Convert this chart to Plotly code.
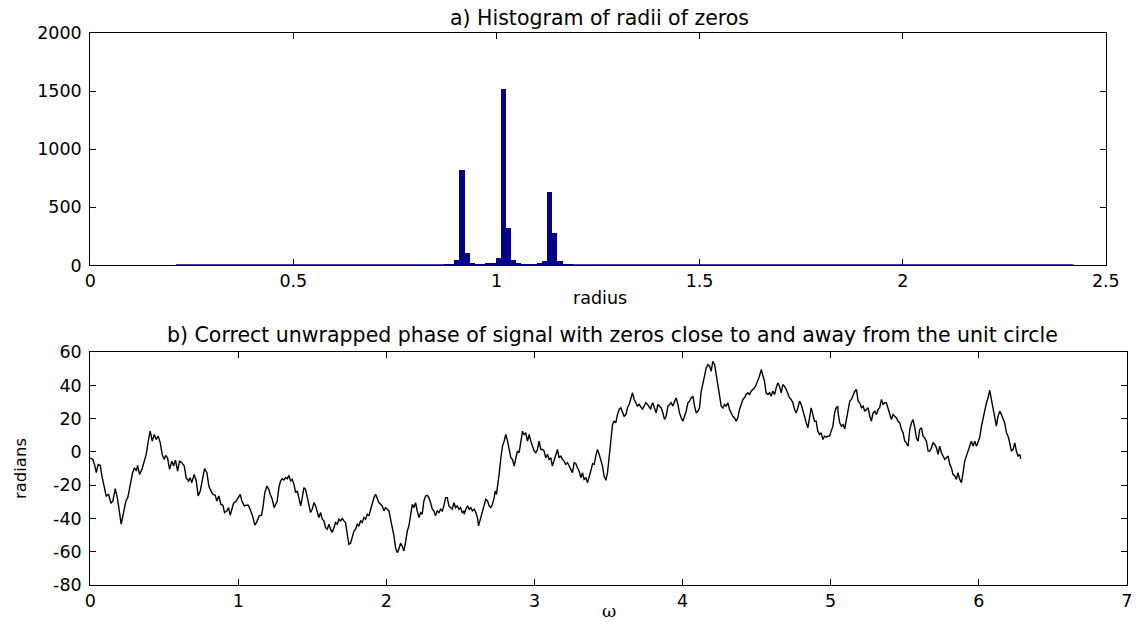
import numpy as np
import plotly.graph_objects as go

# ---------------- data ----------------
# histogram of radii of zeros (bins of equal width, counts)
hist_bin_start = 0.8332          # left edge of first listed bin
hist_bin_width = 0.0127
hist_counts = [2, 3, 3, 5, 10, 45, 825, 110, 19, 12, 16, 20, 25, 67, 1520, 325,
               45, 22, 12, 8, 15, 25, 40, 635, 282, 35, 12, 5, 3, 2, 2]
hist_range = [0.2109, 2.4207]    # smallest / largest bin edge of the histogram

# unwrapped phase
omega = [
    0.000, 0.018, 0.032, 0.041, 0.054, 0.068, 0.079, 0.095, 0.108, 0.124,
    0.140, 0.153, 0.169, 0.185, 0.198, 0.209, 0.225, 0.241, 0.254, 0.270,
    0.286, 0.299, 0.311, 0.320, 0.333, 0.349, 0.365, 0.378, 0.394, 0.405,
    0.419, 0.432, 0.446, 0.459, 0.473, 0.486, 0.500, 0.509, 0.522, 0.536,
    0.551, 0.563, 0.576, 0.590, 0.603, 0.619, 0.635, 0.648, 0.664, 0.675,
    0.686, 0.702, 0.716, 0.729, 0.743, 0.756, 0.772, 0.788, 0.801, 0.815,
    0.828, 0.844, 0.855, 0.869, 0.882, 0.896, 0.907, 0.923, 0.934, 0.945,
    0.957, 0.968, 0.986, 1.002, 1.013, 1.024, 1.040, 1.053, 1.067, 1.080,
    1.096, 1.112, 1.125, 1.141, 1.157, 1.166, 1.179, 1.193, 1.206, 1.215,
    1.229, 1.242, 1.256,
    1.263, 1.274, 1.285, 1.297, 1.308, 1.319, 1.331, 1.342, 1.353, 1.364,
    1.376, 1.387, 1.398, 1.409, 1.421, 1.432, 1.443, 1.454, 1.466, 1.477,
    1.488, 1.499, 1.511, 1.522, 1.533, 1.544, 1.556, 1.567, 1.578, 1.589,
    1.601, 1.612, 1.623, 1.634, 1.646, 1.657, 1.668, 1.679, 1.691, 1.702,
    1.713, 1.724, 1.736, 1.747, 1.758, 1.769, 1.781, 1.792, 1.803, 1.814,
    1.826, 1.837, 1.848, 1.859, 1.871, 1.882, 1.893, 1.904, 1.916, 1.927,
    1.938, 1.949, 1.961, 1.972, 1.983, 1.994, 2.006, 2.017, 2.028, 2.039,
    2.051, 2.062, 2.073, 2.084, 2.096, 2.107, 2.118, 2.129, 2.141, 2.152,
    2.163, 2.175, 2.186, 2.197, 2.208, 2.220, 2.231, 2.242, 2.253, 2.265,
    2.276, 2.287, 2.298, 2.310, 2.321, 2.332, 2.343, 2.355, 2.366, 2.377,
    2.388, 2.400, 2.411, 2.422, 2.433, 2.445, 2.456, 2.467, 2.478, 2.490,
    2.501, 2.512, 2.523,
    2.525, 2.536, 2.548, 2.559, 2.570, 2.581, 2.593, 2.604, 2.615, 2.622,
    2.633, 2.642, 2.651, 2.660, 2.671, 2.683, 2.694, 2.705, 2.716, 2.728,
    2.734, 2.743, 2.750, 2.761, 2.773, 2.784, 2.795, 2.806, 2.818, 2.829,
    2.840, 2.851, 2.863, 2.874, 2.885, 2.896, 2.908, 2.919, 2.930, 2.941,
    2.953, 2.964, 2.975, 2.986, 2.998, 3.009, 3.020, 3.031, 3.043, 3.054,
    3.065, 3.076, 3.088, 3.099, 3.110, 3.121, 3.133, 3.144, 3.155, 3.166,
    3.178, 3.189, 3.200, 3.211, 3.223, 3.234, 3.245, 3.256, 3.268, 3.279,
    3.290, 3.301, 3.313, 3.324, 3.335, 3.347, 3.358, 3.369, 3.380, 3.392,
    3.403, 3.414, 3.425, 3.437, 3.448, 3.459, 3.470, 3.482, 3.493, 3.504,
    3.515, 3.527, 3.538, 3.549, 3.560, 3.572, 3.583, 3.594, 3.605, 3.617,
    3.628, 3.639, 3.650, 3.662, 3.673, 3.684, 3.695, 3.707, 3.718, 3.729,
    3.740, 3.752, 3.763, 3.774, 3.785,
    3.788, 3.799, 3.810, 3.822, 3.833, 3.844, 3.856, 3.867, 3.878, 3.889,
    3.901, 3.912, 3.923, 3.934, 3.946, 3.957, 3.968, 3.979, 3.991, 4.002,
    4.013, 4.024, 4.036, 4.047, 4.058, 4.069, 4.081, 4.092, 4.103, 4.114,
    4.126, 4.137, 4.148, 4.159, 4.171, 4.182, 4.193, 4.204, 4.216, 4.227,
    4.238, 4.249, 4.261, 4.272, 4.283, 4.294, 4.306, 4.317, 4.328, 4.339,
    4.351, 4.362, 4.373, 4.384, 4.396, 4.407, 4.418, 4.429, 4.441, 4.452,
    4.463, 4.474, 4.486, 4.497, 4.508, 4.519, 4.531, 4.542, 4.553, 4.564,
    4.576, 4.587, 4.598, 4.609, 4.621, 4.632, 4.643, 4.654, 4.666, 4.677,
    4.688, 4.700, 4.711, 4.722, 4.733, 4.745, 4.756, 4.767, 4.778, 4.790,
    4.801, 4.812, 4.823, 4.835, 4.846, 4.857, 4.868, 4.880, 4.891, 4.902,
    4.913, 4.925, 4.936, 4.947, 4.958, 4.970, 4.981, 4.992, 5.003, 5.015,
    5.026, 5.037, 5.048,
    5.050, 5.061, 5.073, 5.084, 5.095, 5.106, 5.118, 5.129, 5.140, 5.151,
    5.163, 5.174, 5.185, 5.196, 5.208, 5.219, 5.230, 5.241, 5.253, 5.264,
    5.275, 5.286, 5.298, 5.309, 5.320, 5.331, 5.343, 5.354, 5.365, 5.376,
    5.388, 5.399, 5.410, 5.421, 5.433, 5.444, 5.455, 5.466, 5.478, 5.489,
    5.500, 5.511, 5.523, 5.534, 5.545, 5.556, 5.568, 5.579, 5.590, 5.601,
    5.613, 5.624, 5.635, 5.646, 5.658, 5.669, 5.680, 5.691, 5.703, 5.714,
    5.725, 5.736, 5.748, 5.759, 5.770, 5.781, 5.793, 5.804, 5.815, 5.826,
    5.838, 5.849, 5.860, 5.871, 5.883, 5.894, 5.905, 5.916, 5.928, 5.939,
    5.950, 5.961, 5.973, 5.984, 5.995, 6.006, 6.018, 6.029, 6.040, 6.052,
    6.063, 6.074, 6.085, 6.097, 6.108, 6.119, 6.130, 6.142, 6.153, 6.164,
    6.175, 6.187, 6.198, 6.209, 6.220, 6.232, 6.243, 6.254, 6.265, 6.277,
    6.283,
]
phase = [
    -3.5, -4.5, -8.5, -12.5, -7.5, -8.1, -14.5, -21.5, -26.5, -25.5,
    -30.9, -29.5, -22.1, -28.5, -35.5, -43.5, -36.5, -29.5, -27.5, -19.5,
    -12.5, -9.5, -11.5, -8.1, -13.5, -10.5, -6.1, -1.5, 7.5, 12.5,
    6.5, 10.5, 7.5, 9.5, 5.5, -1.5, -4.5, -2.1, -3.5, -10.5,
    -5.5, -8.5, -4.9, -11.5, -5.5, -6.5, -8.5, -15.5, -17.5, -15.5,
    -18.5, -13.5, -17.5, -26.5, -23.5, -17.5, -10.1, -12.5, -20.5, -23.5,
    -25.5, -26.1, -29.5, -26.5, -31.5, -32.1, -36.5, -35.5, -33.5, -38.1,
    -34.5, -30.9, -29.5, -27.5, -25.5, -29.5, -32.5, -32.1, -32.1, -34.5,
    -38.5, -44.1, -42.1, -38.5, -38.1, -33.5, -24.5, -20.5, -22.5, -25.5,
    -28.5, -33.5, -30.1,
    -29.5, -21.5, -17.5, -16.1, -16.9, -15.5, -16.1, -14.1, -17.5, -16.5,
    -19.5, -24.5, -23.5, -27.5, -32.5, -27.5, -21.5, -22.5, -27.5, -31.5,
    -36.5, -34.5, -30.5, -32.5, -35.5, -39.5, -36.5, -40.5, -41.5, -45.5,
    -46.5, -43.5, -46.5, -48.5, -45.5, -42.5, -43.5, -40.5, -41.5, -40.1,
    -41.5, -42.5, -49.6, -55.6, -55.0, -51.6, -47.6, -46.5, -43.5, -44.5,
    -41.5, -42.5, -39.5, -40.5, -37.5, -38.5, -34.5, -31.5, -27.5, -25.5,
    -27.5, -30.5, -31.5, -32.5, -35.5, -33.5, -34.5, -35.5, -40.5, -44.5,
    -50.6, -57.6, -60.6, -58.6, -55.0, -56.6, -59.6, -54.6, -47.6, -44.5,
    -36.5, -31.5, -33.5, -30.5, -35.5, -39.5, -36.5, -37.5, -29.5, -26.5,
    -26.1, -27.5, -30.5, -34.5, -35.5, -38.5, -35.5, -36.5, -34.5, -35.5,
    -32.5, -27.5, -27.5, -32.5, -33.5, -34.5, -30.5, -33.5, -32.5, -34.5,
    -33.5, -36.5, -35.5,
    -37.5, -34.5, -32.5, -34.5, -33.5, -35.5, -34.5, -36.5, -39.5, -44.5,
    -40.5, -37.5, -34.5, -31.5, -28.5, -29.5, -32.5, -33.5, -31.5, -27.5,
    -23.5, -25.5, -21.5, -13.5, -3.5, 3.5, 6.5, 10.5, 6.5, 0.5,
    -3.5, -4.5, -8.5, -3.5, 0.5, -0.5, 6.5, 12.5, 10.5, 11.5,
    6.5, 10.5, 6.5, 3.5, 0.5, -0.5, 1.5, 6.5, 1.5, 1.5,
    0.5, -3.5, -1.5, -4.5, -3.5, -8.5, -4.5, -1.5, 1.5, -3.5,
    -2.5, -4.5, -5.5, -7.5, -6.5, -8.5, -10.5, -12.5, -6.5, -7.1,
    -9.5, -11.5, -15.5, -12.5, -16.5, -15.5, -18.5, -15.5, -11.5, -7.1,
    -7.5, -2.5, 1.5, -1.5, -4.5, -8.5, -14.5, -17.1, -12.5, -3.5,
    7.5, 16.5, 18.5, 17.5, 22.5, 25.6, 26.6, 24.2, 21.5, 22.5,
    26.6, 28.6, 32.6, 35.6, 31.6, 29.6, 27.6, 28.6, 26.6, 25.6,
    27.6, 29.6, 28.6, 26.6, 25.6,
    27.6, 29.6, 26.5, 23.5, 28.6, 27.6, 26.5, 23.5, 19.5, 21.5,
    27.6, 28.6, 29.6, 27.6, 30.6, 32.6, 28.6, 23.5, 20.5, 18.5,
    21.5, 24.5, 29.6, 30.6, 32.6, 33.6, 27.6, 23.5, 24.5, 26.5,
    36.6, 40.6, 45.6, 50.6, 52.6, 51.6, 48.6, 54.6, 52.6, 46.6,
    40.6, 33.6, 27.6, 26.5, 28.6, 27.6, 29.6, 25.5, 23.5, 21.5,
    20.5, 18.5, 20.5, 25.5, 28.6, 31.6, 32.6, 34.6, 35.6, 34.6,
    36.6, 37.6, 38.6, 40.6, 42.6, 45.6, 49.6, 46.6, 42.6, 35.6,
    34.6, 35.6, 33.6, 36.6, 34.6, 38.6, 41.6, 39.6, 35.6, 40.6,
    39.6, 37.6, 34.6, 32.6, 31.6, 29.6, 25.5, 23.5, 26.5, 30.6,
    28.6, 25.5, 21.5, 17.5, 14.5, 20.5, 26.5, 22.5, 18.5, 18.5,
    12.5, 10.5, 11.5, 7.5, 9.5, 8.9, 9.5, 9.5, 12.5, 15.5,
    23.5, 26.5, 27.6,
    23.5, 17.5, 15.5, 16.5, 13.9, 19.5, 26.6, 30.6, 31.6, 34.6,
    36.6, 37.6, 30.6, 29.6, 26.6, 27.6, 24.5, 25.6, 26.6, 21.5,
    18.5, 23.5, 24.5, 22.5, 25.6, 26.6, 31.6, 28.6, 29.6, 29.6,
    25.6, 23.5, 19.5, 22.5, 21.5, 20.5, 18.5, 17.5, 13.5, 11.5,
    6.5, 5.5, 3.5, 13.5, 17.5, 19.5, 14.5, 8.5, 6.5, 13.5,
    14.5, 9.5, 8.5, 6.5, 0.5, 0.5, 2.5, 5.5, 4.5, 2.5,
    -1.5, 3.5, -0.5, -2.5, -4.5, -3.5, -2.5, -7.5, -9.5, -13.5,
    -14.5, -16.5, -12.5, -16.5, -18.5, -12.5, -5.5, -2.5, 0.5, 2.5,
    6.5, 3.5, 6.5, 3.5, 5.5, 8.5, 15.5, 20.5, 25.6, 29.6,
    32.6, 37.2, 31.6, 25.6, 18.5, 15.5, 21.5, 24.5, 22.5, 20.5,
    17.5, 11.5, 9.5, 5.5, 0.5, 1.5, 5.5, 0.5, -2.5, -1.5,
    -4.1,
]
assert len(omega) == len(phase)

top_xticks = [0, 0.5, 1, 1.5, 2, 2.5]
top_xticktext = ["0", "0.5", "1", "1.5", "2", "2.5"]
top_yticks = [0, 500, 1000, 1500, 2000]
bot_xticks = [0, 1, 2, 3, 4, 5, 6, 7]
bot_yticks = [-80, -60, -40, -20, 0, 20, 40, 60]
bot_yticktext = ["-80", "-60", "-40", "-20", "0", "20", "40", "60"]

# ---------------- figure ----------------
W, H = 1144, 625
# the captured page is offset and slightly reduced; layout positions below are
# given in target-image pixels and mapped to figure pixels here
SX, SY, OX, OY = 0.98, 0.97, 5.0, 8.0
BAR = "#00008F"
SANS = "DejaVu Sans, Arial, sans-serif"
TICKFONT = dict(family=SANS, size=17.5, color="black")
TITLEFONT = dict(family=SANS, size=20.5, color="black")

centers = hist_bin_start + hist_bin_width * (np.arange(len(hist_counts)) + 0.5)

fig = go.Figure()
fig.add_trace(go.Scatter(x=hist_range, y=[0, 0], mode="lines",
                         line=dict(color=BAR, width=2.2),
                         xaxis="x", yaxis="y", showlegend=False, hoverinfo="skip"))
fig.add_trace(go.Bar(x=centers, y=hist_counts, width=hist_bin_width,
                     marker=dict(color=BAR, line=dict(width=0)),
                     xaxis="x", yaxis="y", showlegend=False))
fig.add_trace(go.Scatter(x=omega, y=phase, mode="lines",
                         line=dict(color="black", width=1.4),
                         xaxis="x2", yaxis="y2", showlegend=False))


def px_x(p):
    return ((p - OX) / SX) / W


def px_y(p):
    return 1 - ((p - OY) / SY) / H


axis_common = dict(showgrid=False, zeroline=False, showline=True, linecolor="black",
                   linewidth=1, mirror="ticks", ticks="inside", ticklen=6,
                   tickcolor="black", tickwidth=1, tickfont=TICKFONT)

fig.update_layout(
    width=W, height=H, margin=dict(l=0, r=0, t=0, b=0),
    paper_bgcolor="white", plot_bgcolor="white", bargap=0,
    xaxis=dict(domain=[px_x(89), px_x(1102)], range=[0, 2.5], tickvals=top_xticks,
               ticktext=top_xticktext, anchor="y", layer="below traces", **axis_common),
    yaxis=dict(domain=[px_y(264), px_y(31)], range=[0, 2000], tickvals=top_yticks,
               anchor="x", ticklabelstandoff=4, **axis_common),
    xaxis2=dict(domain=[px_x(89), px_x(1123)], range=[0, 7], tickvals=bot_xticks,
                anchor="y2", **axis_common),
    yaxis2=dict(domain=[px_y(584), px_y(351)], range=[-80, 60], tickvals=bot_yticks,
                ticktext=bot_yticktext, anchor="x2", ticklabelstandoff=4, **axis_common),
    annotations=[
        dict(text="a) Histogram of radii of zeros", x=px_x(597), y=px_y(16),
             xref="paper", yref="paper", xanchor="center", yanchor="middle",
             showarrow=False, font=TITLEFONT),
        dict(text="radius", x=px_x(597), y=px_y(297), xref="paper", yref="paper",
             xanchor="center", yanchor="middle", showarrow=False,
             font=dict(family=SANS, size=17.5, color="black")),
        dict(text="b) Correct unwrapped phase of signal with zeros close to and away from the unit circle",
             x=px_x(610), y=px_y(334), xref="paper", yref="paper", xanchor="center",
             yanchor="middle", showarrow=False, font=TITLEFONT),
        dict(text="ω", x=px_x(606), y=px_y(610), xref="paper", yref="paper",
             xanchor="center", yanchor="middle", showarrow=False,
             font=dict(family="DejaVu Serif, Liberation Serif, serif", size=17.5, color="black")),
        dict(text="radians", x=px_x(19), y=px_y(468), xref="paper", yref="paper",
             xanchor="center", yanchor="middle", showarrow=False, textangle=-90,
             font=dict(family=SANS, size=16.5, color="black")),
    ],
)

fig.write_html("out.html")
